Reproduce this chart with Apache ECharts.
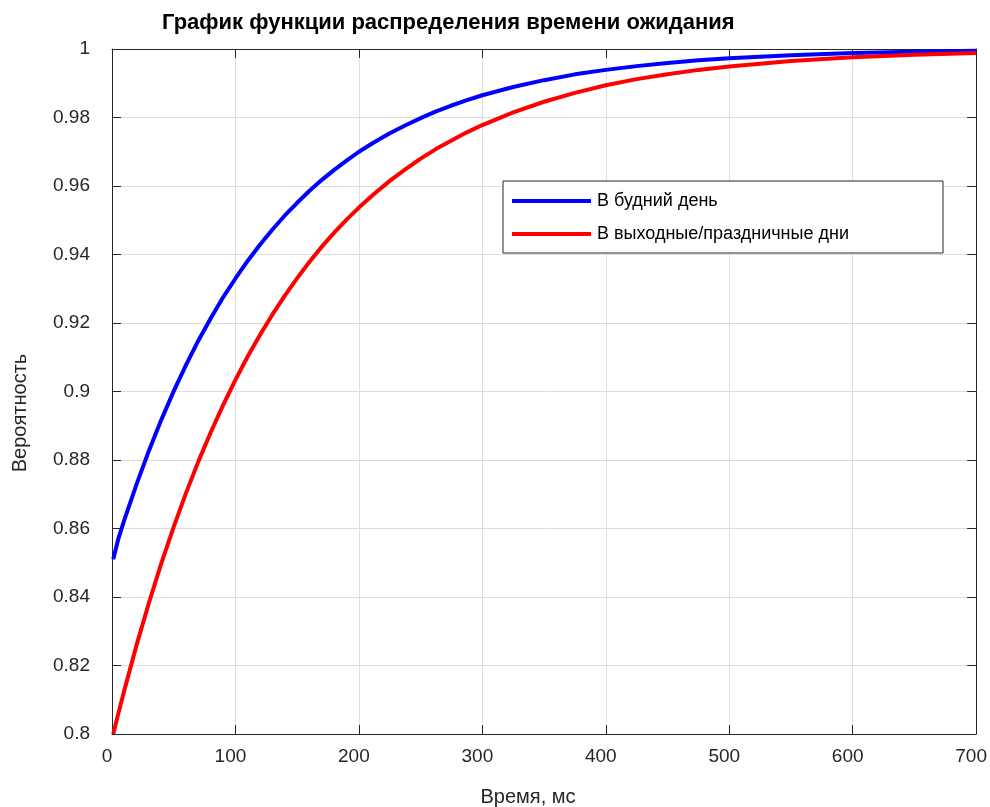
<!DOCTYPE html>
<html>
<head>
<meta charset="utf-8">
<script src="https://cdn.jsdelivr.net/npm/echarts@6/dist/echarts.min.js"></script>
<style>
html,body{margin:0;padding:0;background:#fff;}
#container{width:990px;height:807px;}
</style>
</head>
<body>
<div id="container"></div>
<script>
// время, мс
var times = [1,5,10,20,30,40,50,60,70,80,90,100,110,120,130,140,150,160,170,180,190,200,212,225,237,250,262,275,287,300,325,350,375,400,425,450,475,500,550,600,650,700];
// будний день
var weekday = [0.851,0.8568,0.8625,0.873,0.8828,0.8918,0.9001,0.9078,0.9149,0.9214,0.9275,0.933,0.9382,0.9429,0.9473,0.9514,0.9551,0.9586,0.9618,0.9647,0.9674,0.970,0.9727,0.9754,0.9776,0.9798,0.9817,0.9835,0.9850,0.9865,0.9889,0.9909,0.9926,0.9939,0.9950,0.9959,0.9967,0.9973,0.9982,0.9988,0.9992,0.9995];
// выходные/праздничные
var weekend = [0.800,0.8058,0.8128,0.8261,0.8384,0.8499,0.8605,0.8704,0.8796,0.8881,0.8960,0.9034,0.9103,0.9166,0.9225,0.9280,0.9331,0.9379,0.9423,0.9464,0.9502,0.9537,0.9576,0.9615,0.9647,0.9680,0.9707,0.9733,0.9756,0.9778,0.9815,0.9846,0.9872,0.9894,0.9912,0.9926,0.9939,0.9949,0.9965,0.9976,0.9983,0.9988];
var seriesNames = ['В будний день','В выходные/праздничные дни'];

function pairs(xs,ys){
	var out = [];
	for(var i=0,k=xs.length;i<k;i++){
		out.push([xs[i],ys[i]]);
	}
	return out;
}

var font = "'Liberation Sans', Arial, Helvetica, sans-serif";
var axisColor = '#262626';
var gridColor = '#dedede';

var myChart = echarts.init(document.getElementById('container'));
var option = {
	animation: false,
	backgroundColor: '#fff',
	title: {
		text: 'График функции распределения времени ожидания',
		left: 162,
		top: 12,
		padding: 0,
		textStyle: {fontFamily: font, fontSize: 22, fontWeight: 'bold', color: '#000'}
	},
	grid: {left: 112, top: 49, right: 12, bottom: 73, containLabel: false},
	legend: {
		orient: 'vertical',
		left: 503,
		top: 181,
		padding: [11, 94, 10, 9],
		itemGap: 15,
		itemWidth: 79,
		itemHeight: 4,
		icon: 'rect',
		backgroundColor: '#fff',
		borderColor: axisColor,
		borderWidth: 1,
		textStyle: {fontFamily: font, fontSize: 18, color: '#000', padding: [0,0,3,1]},
		data: seriesNames
	},
	xAxis: [{
		type: 'value',
		min: 0,
		max: 700,
		interval: 100,
		axisLine: {show: true, onZero: false, lineStyle: {color: axisColor}},
		axisTick: {show: true, inside: true, length: 9, lineStyle: {color: axisColor}},
		axisLabel: {fontFamily: font, fontSize: 19, color: axisColor, margin: 13, padding: [0,10,0,0]},
		splitLine: {show: true, lineStyle: {color: gridColor}}
	},{
		type: 'value',
		position: 'top',
		min: 0,
		max: 700,
		interval: 100,
		axisLine: {show: true, onZero: false, lineStyle: {color: axisColor}},
		axisTick: {show: true, inside: true, length: 9, lineStyle: {color: axisColor}},
		axisLabel: {show: false},
		splitLine: {show: false}
	}],
	yAxis: [{
		type: 'value',
		min: 0.8,
		max: 1,
		interval: 0.02,
		axisLine: {show: true, onZero: false, lineStyle: {color: axisColor}},
		axisTick: {show: true, inside: true, length: 9, lineStyle: {color: axisColor}},
		axisLabel: {
			fontFamily: font, fontSize: 19, color: axisColor, margin: 22, padding: [0,0,9,0],
			formatter: function(v){ return String(parseFloat(v.toFixed(2))); }
		},
		splitLine: {show: true, lineStyle: {color: gridColor}}
	},{
		type: 'value',
		position: 'right',
		min: 0.8,
		max: 1,
		interval: 0.02,
		axisLine: {show: true, onZero: false, lineStyle: {color: axisColor}},
		axisTick: {show: true, inside: true, length: 9, lineStyle: {color: axisColor}},
		axisLabel: {show: false},
		splitLine: {show: false}
	}],
	graphic: [{
		type: 'text',
		x: 528,
		y: 797,
		style: {text: 'Время, мс', font: '20px ' + font, fill: axisColor, align: 'center', verticalAlign: 'middle'}
	},{
		type: 'text',
		x: 10,
		y: 413,
		rotation: Math.PI / 2,
		style: {text: 'Вероятность', font: '20px ' + font, fill: axisColor, align: 'center', verticalAlign: 'top'}
	}],
	series: [{
		name: seriesNames[0],
		type: 'line',
		data: pairs(times, weekday),
		showSymbol: false,
		clip: true,
		color: '#0000ff',
		lineStyle: {width: 4, color: '#0000ff', join: 'round'}
	},{
		name: seriesNames[1],
		type: 'line',
		data: pairs(times, weekend),
		showSymbol: false,
		clip: true,
		color: '#ff0000',
		lineStyle: {width: 4, color: '#ff0000', join: 'round'}
	}]
};
myChart.setOption(option);
</script>
</body>
</html>
